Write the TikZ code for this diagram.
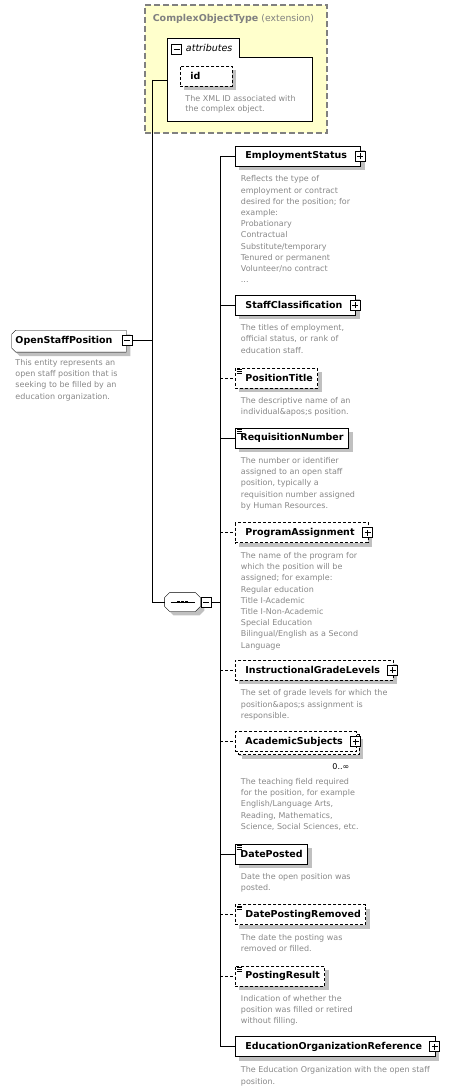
\documentclass[tikz,border=0pt]{standalone}
\usepackage{fontspec}
\setmainfont{DejaVu Sans}
\usepackage{tikz}
\usetikzlibrary{shadows,backgrounds}

\definecolor{descgray}{RGB}{135,135,135}
\definecolor{shadegray}{RGB}{192,192,192}
\definecolor{extyellow}{RGB}{255,255,204}
\definecolor{extborder}{RGB}{128,128,128}

\newcommand{\namefont}{\fontsize{9.5}{11}\selectfont\bfseries}
\newcommand{\descfont}{\fontsize{8}{11.2}\selectfont}

\tikzset{
  shade/.style={drop shadow={shadow xshift=4pt, shadow yshift=-4pt, fill=shadegray, opacity=1}},
  elem/.style={draw, fill=white, anchor=west, minimum height=20pt, inner xsep=5pt, inner ysep=0pt,
    font=\namefont, shade},
  cplx/.style={elem, inner xsep=10pt, execute at end node={\hspace*{3.5pt}}},
  optbox/.style={dash pattern=on 3pt off 2pt},
  optsimple/.style={optbox, execute at begin node={\hspace*{5pt}}},
  simple/.style={path picture={\foreach \k in {0,1,2}
      \draw[solid, line width=0.8pt] ([xshift=1.5pt, yshift=-1.5pt-1.7pt*\k]path picture bounding box.north west) -- ++(5pt,0);}},
  multi/.style={general shadow={shadow xshift=7pt, shadow yshift=-7pt, fill=shadegray},
    general shadow={shadow xshift=3pt, shadow yshift=-3pt, fill=white, draw=black, dash pattern=on 3pt off 2pt}},
  desc/.style={anchor=north west, inner sep=0pt, align=left, font=\descfont, text=descgray},
  plusbox/.style={draw, solid, fill=white, minimum size=10pt, inner sep=0pt,
    path picture={\draw[solid] ([xshift=-3pt]path picture bounding box.center) -- ([xshift=3pt]path picture bounding box.center);
      \draw[solid] ([yshift=-3pt]path picture bounding box.center) -- ([yshift=3pt]path picture bounding box.center);}},
  minusbox/.style={draw, solid, fill=white, minimum size=10pt, inner sep=0pt,
    path picture={\draw[solid] ([xshift=-3pt]path picture bounding box.center) -- ([xshift=3pt]path picture bounding box.center);}},
  optline/.style={dash pattern=on 3pt off 2pt}
}

\begin{document}
\begin{tikzpicture}[line join=miter, x=1pt, y=-1pt, line width=0.9pt]
\useasboundingbox (0,0) rectangle (463,1091);

% extension base
\node[draw=extborder, fill=extyellow, dash pattern=on 6pt off 3pt, line width=1.2pt,
  minimum width=182pt, minimum height=128pt] (ext) at (236,69) {};
\node[anchor=west, inner sep=0pt, text=extborder] (ext-t) at (152.3,19)
  {{\namefont ComplexObjectType} {\fontsize{9.3}{11}\selectfont(extension)}};
\draw[fill=white] (167,38) -- (239,38) -- (239,57) -- (312,57) -- (312,121) -- (167,121) -- cycle;
\node[minusbox] (attr-m) at (176.5,49) {};
\node[anchor=west, inner sep=0pt, font=\fontsize{9.5}{11}\selectfont\itshape] (attr-t) at (185.5,48) {attributes};
\node[elem, optbox, text width=32pt, inner xsep=10pt] (id) at (180,76.3) {id};
\node[desc, font=\fontsize{8}{10}\selectfont] (id-d) at ([xshift=5pt, yshift=-8.7pt]id.south west) {The XML ID associated with\\the complex object.};
\coordinate (attr-in) at (167,80);

% root
\node[anchor=west, inner xsep=3.3pt, inner ysep=0pt, minimum height=21pt, font=\namefont,
  execute at end node={\hspace*{10pt}}] (osp) at (11.7,341.2) {OpenStaffPosition};
\begin{scope}[on background layer]
\draw[fill=white, shade] ([xshift=4pt]osp.north west) -- (osp.north east) -- (osp.south east)
  -- ([xshift=4pt]osp.south west) -- ([yshift=4pt]osp.south west) -- ([yshift=-4pt]osp.north west) -- cycle;
\end{scope}
\node[minusbox] (osp-m) at (127,340.3) {};
\node[desc] (osp-d) at (15,359) {This entity represents an\\open staff position that is\\seeking to be filled by an\\education organization.};

% sequence
\node[minimum width=35pt, minimum height=18pt, inner sep=0pt] (seq) at (182.5,602) {};
\begin{scope}[on background layer]
\draw[fill=white, shade] ([xshift=5pt]seq.north west) -- ([xshift=-5pt]seq.north east) -- ([yshift=-5pt]seq.north east)
  -- ([yshift=5pt]seq.south east) -- ([xshift=-5pt]seq.south east) -- ([xshift=5pt]seq.south west)
  -- ([yshift=5pt]seq.south west) -- ([yshift=-5pt]seq.north west) -- cycle;
\end{scope}
\draw ([xshift=-12pt]seq.center) -- ([xshift=12pt]seq.center);
\foreach \d in {-4,0,4}
  \fill ([xshift=\d*1pt-1.3pt, yshift=-1.3pt]seq.center) rectangle ++(2.6pt,2.6pt);
\node[minusbox] (seq-m) at (206,602) {};

% elements
\node[cplx] (es) at (235,156.3) {EmploymentStatus};
\node[plusbox] (es-p) at ([xshift=-1pt]es.east) {};
\node[desc] (es-d) at ([xshift=5.5pt, yshift=-8.7pt]es.south west) {Reflects the type of\\employment or contract\\desired for the position; for\\example:\\Probationary\\Contractual\\Substitute/temporary\\Tenured or permanent\\Volunteer/no contract\\...};

\node[cplx] (sc) at (235,305) {StaffClassification};
\node[plusbox] (sc-p) at ([xshift=-1pt]sc.east) {};
\node[desc] (sc-d) at ([xshift=5.5pt, yshift=-8.7pt]sc.south west) {The titles of employment,\\official status, or rank of\\education staff.};

\node[elem, simple, optsimple] (pt) at (235,378.3) {PositionTitle};
\node[desc] (pt-d) at ([xshift=5.5pt, yshift=-8.2pt]pt.south west) {The descriptive name of an\\individual\&apos;s position.};

\node[elem, simple] (rn) at (235,438.3) {RequisitionNumber};
\node[desc] (rn-d) at ([xshift=5.5pt, yshift=-8.2pt]rn.south west) {The number or identifier\\assigned to an open staff\\position, typically a\\requisition number assigned\\by Human Resources.};

\node[cplx, optbox] (pa) at (235,532.8) {ProgramAssignment};
\node[plusbox] (pa-p) at ([xshift=-1pt]pa.east) {};
\node[desc] (pa-d) at ([xshift=5.5pt, yshift=-8.7pt]pa.south west) {The name of the program for\\which the position will be\\assigned; for example:\\Regular education\\Title I-Academic\\Title I-Non-Academic\\Special Education\\Bilingual/English as a Second\\Language};

\node[cplx, optbox] (igl) at (235,670.3) {InstructionalGradeLevels};
\node[plusbox] (igl-p) at ([xshift=-1pt]igl.east) {};
\node[desc] (igl-d) at ([xshift=5.5pt, yshift=-8.7pt]igl.south west) {The set of grade levels for which the\\position\&apos;s assignment is\\responsible.};

\node[cplx, optbox, multi] (as) at (235,741.7) {AcademicSubjects};
\node[plusbox] (as-p) at ([xshift=-1pt]as.east) {};
\node[anchor=east, inner sep=0pt, font=\descfont] (as-n) at ([xshift=-7pt, yshift=-14.7pt]as.south east) {0..∞};
\node[desc] (as-d) at ([xshift=5.5pt, yshift=-25.9pt]as.south west) {The teaching field required\\for the position, for example\\English/Language Arts,\\Reading, Mathematics,\\Science, Social Sciences, etc.};

\node[elem, simple] (dp) at (235,854) {DatePosted};
\node[desc] (dp-d) at ([xshift=5.5pt, yshift=-8.2pt]dp.south west) {Date the open position was\\posted.};

\node[elem, simple, optsimple] (dpr) at (235,914.5) {DatePostingRemoved};
\node[desc] (dpr-d) at ([xshift=5.5pt, yshift=-8.7pt]dpr.south west) {The date the posting was\\removed or filled.};

\node[elem, simple, optsimple] (pr) at (235,976.3) {PostingResult};
\node[desc] (pr-d) at ([xshift=5.5pt, yshift=-8.2pt]pr.south west) {Indication of whether the\\position was filled or retired\\without filling.};

\node[cplx] (eor) at (235,1046.7) {EducationOrganizationReference};
\node[plusbox] (eor-p) at ([xshift=-1pt]eor.east) {};
\node[desc] (eor-d) at ([xshift=5.5pt, yshift=-9.3pt]eor.south west) {The Education Organization with the open staff\\position.};

% connectors
\coordinate (lnk) at (152,0);
\coordinate (trk) at (220,0);
\draw (osp-m.east) -- (osp-m.east -| lnk);
\draw (attr-in -| lnk) -- (attr-in);
\draw (attr-in -| lnk) -- (seq.west -| lnk) -- (seq.west);
\draw (seq-m.east) -- (seq-m.east -| trk);
\draw (es.west -| trk) -- (eor.west -| trk);
\foreach \n in {es,sc,rn,dp,eor}
  \draw (\n.west -| trk) -- (\n.west);
\foreach \n in {pt,pa,igl,as,dpr,pr}
  \draw[optline] (\n.west -| trk) -- (\n.west);
\end{tikzpicture}
\end{document}
